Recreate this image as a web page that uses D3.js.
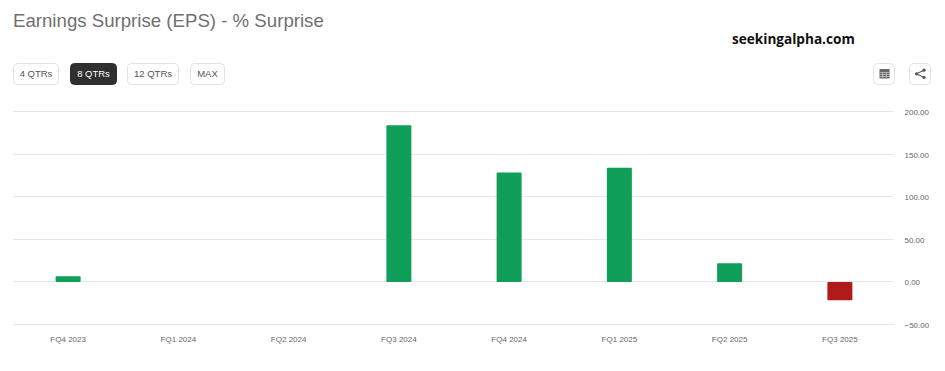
<!DOCTYPE html>
<html>
<head>
<meta charset="utf-8">
<script src="https://cdn.jsdelivr.net/npm/d3@7"></script>
<style>
html, body { margin: 0; padding: 0; background: #fff; overflow: hidden; }
text { font-family: "Liberation Sans", Arial, sans-serif; }
</style>
</head>
<body>
<div id="my_dataviz"></div>
<script>
// Data
const quarters = ['FQ4 2023', 'FQ1 2024', 'FQ2 2024', 'FQ3 2024', 'FQ4 2024', 'FQ1 2025', 'FQ2 2025', 'FQ3 2025'];
const surprise = [6.5, null, null, 184, 128.5, 134, 22, -21.5];
const yTicks = [200, 150, 100, 50, 0, -50];
const rangeButtons = ['4 QTRs', '8 QTRs', '12 QTRs', 'MAX'];
const buttonLefts = [13.5, 70.5, 127.5, 190.5];
const buttonWidths = [45, 46, 51, 34];

// Constant
const width = 945;
const height = 371;
const plotLeft = 13;
const plotRight = 895;
const greenColor = '#0f9f59';
const redColor = '#b11a1a';
const gridColor = '#e6e6e6';
const labelColor = '#666666';

const svg = d3.select('#my_dataviz')
    .append('svg')
    .attr('width', width)
    .attr('height', height);

svg.append('text')
    .attr('x', 13)
    .attr('y', 27)
    .attr('font-size', 18.65)
    .attr('fill', '#707070')
    .text('Earnings Surprise (EPS) - % Surprise');

svg.append('text')
    .attr('x', 732)
    .attr('y', 44)
    .attr('font-size', 13.6)
    .attr('font-weight', 'bold')
    .style('font-family', '"Open Sans", sans-serif')
    .attr('fill', '#111')
    .text('seekingalpha.com');

// range buttons
rangeButtons.forEach((label, i) => {
    const active = i === 1;
    svg.append('rect')
        .attr('x', buttonLefts[i])
        .attr('y', 63.5)
        .attr('width', buttonWidths[i])
        .attr('height', 21)
        .attr('rx', 4)
        .attr('fill', active ? '#2f2f2f' : '#fff')
        .attr('stroke', active ? '#2f2f2f' : '#e3e3e3');
    svg.append('text')
        .attr('x', buttonLefts[i] + buttonWidths[i] / 2)
        .attr('y', 77)
        .attr('text-anchor', 'middle')
        .attr('font-size', 9.5)
        .attr('fill', active ? '#fff' : '#555')
        .text(label);
});

// icon buttons
[874, 910].forEach(x => {
    svg.append('rect')
        .attr('x', x - 0.5)
        .attr('y', 63.5)
        .attr('width', 21)
        .attr('height', 21)
        .attr('rx', 4)
        .attr('fill', '#fff')
        .attr('stroke', '#e3e3e3');
});

// table icon
const tableIcon = svg.append('g').attr('transform', 'translate(879.5,69)');
tableIcon.append('rect').attr('width', 10).attr('height', 9.5).attr('fill', '#666');
tableIcon.append('path')
    .attr('d', 'M0.5 3.5H9.5M0.5 5.5H9.5M0.5 7.5H9.5M3.2 3V9M6.8 3V9')
    .attr('stroke', '#ddd')
    .attr('stroke-width', 0.6);

// share icon
const shareIcon = svg.append('g').attr('transform', 'translate(915,69)');
shareIcon.append('path')
    .attr('d', 'M9 1.2L1.5 4.8L9 8.4')
    .attr('fill', 'none')
    .attr('stroke', '#555')
    .attr('stroke-width', 1.1);
[[9, 1.2], [1.5, 4.8], [9, 8.4]].forEach(p => {
    shareIcon.append('circle').attr('cx', p[0]).attr('cy', p[1]).attr('r', 1.6).attr('fill', '#555');
});

// Scales
const xScale = d3.scaleBand()
    .domain(quarters)
    .range([plotLeft, plotRight]);
const yScale = d3.scaleLinear()
    .domain([-50, 200])
    .range([324.5, 111.5]);
const barWidth = 25;

// Axes
const yAxis = svg.append('g')
    .attr('transform', `translate(${plotRight - 2},0)`)
    .call(d3.axisRight(yScale).tickValues(yTicks).tickSize(0).tickFormat(d3.format('.2f')));
yAxis.select('.domain').remove();
yAxis.selectAll('.tick text')
    .attr('x', 11.5)
    .attr('dy', 3)
    .attr('font-size', 8)
    .attr('fill', labelColor)
    .style('font-family', '"Liberation Sans", Arial, sans-serif');

svg.append('g')
    .selectAll('line')
    .data(yTicks)
    .enter()
    .append('line')
    .attr('x1', plotLeft)
    .attr('x2', d => d === -50 ? plotRight : plotRight - 2)
    .attr('y1', d => Math.floor(yScale(d)) + 0.5)
    .attr('y2', d => Math.floor(yScale(d)) + 0.5)
    .attr('stroke', gridColor);

const xAxis = svg.append('g')
    .attr('transform', 'translate(0,324.5)')
    .call(d3.axisBottom(xScale).tickSize(0));
xAxis.select('.domain').remove();
xAxis.selectAll('.tick text')
    .attr('y', 12)
    .attr('font-size', 8)
    .attr('fill', labelColor)
    .style('font-family', '"Liberation Sans", Arial, sans-serif');

// Bars
svg.append('g')
    .selectAll('rect')
    .data(quarters.map((q, i) => ({ quarter: q, value: surprise[i] })).filter(d => d.value !== null))
    .enter()
    .append('rect')
    .attr('x', d => xScale(d.quarter) + xScale.bandwidth() / 2 - barWidth / 2)
    .attr('y', d => yScale(Math.max(d.value, 0)))
    .attr('width', barWidth)
    .attr('height', d => Math.abs(yScale(d.value) - yScale(0)))
    .attr('rx', 1)
    .attr('fill', d => d.value >= 0 ? greenColor : redColor);
</script>
</body>
</html>
